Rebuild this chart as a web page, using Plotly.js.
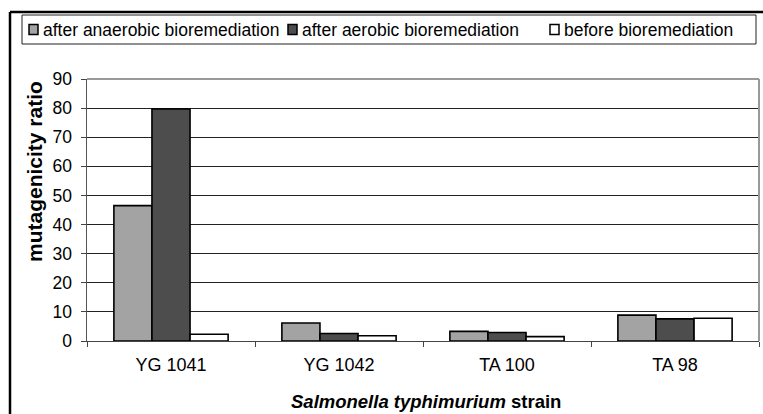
<!DOCTYPE html>
<html>
<head>
<meta charset="utf-8">
<script src="https://cdn.plot.ly/plotly-3.0.1.min.js"></script>
<style>
  html, body { margin: 0; padding: 0; background: #fff; }
  #chart { width: 763px; height: 414px; }
</style>
</head>
<body>
<div id="chart"></div>
<script>
const strains = ["YG 1041", "YG 1042", "TA 100", "TA 98"];
const seriesNames = ["after anaerobic bioremediation", "after aerobic bioremediation", "before bioremediation"];
const anaerobic = [46.5, 6.2, 3.3, 8.9];
const aerobic = [79.7, 2.6, 2.9, 7.6];
const before = [2.3, 1.8, 1.5, 7.8];
const yTicks = [0, 10, 20, 30, 40, 50, 60, 70, 80, 90];

const colors = ["#a3a3a3", "#4d4d4d", "#ffffff"];
const values = [anaerobic, aerobic, before];

const W = 763, H = 414;
const L = 87, R = 759, T = 79, B = 341;
const pw = R - L, ph = B - T;
const px = x => (x - L) / pw;
const py = y => (B - y) / ph;

const traces = values.map((v, i) => ({
  type: "bar",
  name: seriesNames[i],
  x: strains,
  y: v,
  marker: { color: colors[i], line: { color: "#000", width: 1.6 } },
  hoverinfo: "skip",
  showlegend: false
}));

// manual legend (box, swatches, labels) placed like the original
const legendBox = { x0: 22, x1: 756, y0: 15, y1: 44 };
const legendSwatchX = [29, 288, 550];
const legendTextX = [41, 300, 562];
const legendMidY = 29.5;

const shapes = [
  { type: "line", xref: "paper", yref: "paper", x0: px(10), x1: px(W + 5), y0: py(12), y1: py(12), line: { color: "#000", width: 2.5 } },
  { type: "line", xref: "paper", yref: "paper", x0: px(10), x1: px(10), y0: py(12), y1: py(H + 5), line: { color: "#000", width: 2.5 } },
  { type: "line", xref: "paper", yref: "paper", x0: 0, x1: 1, y0: 1, y1: 1, line: { color: "#999", width: 2 }, layer: "above" },
  { type: "line", xref: "paper", yref: "paper", x0: 1, x1: 1, y0: 0, y1: 1, line: { color: "#999", width: 2 }, layer: "above" },
  { type: "rect", xref: "paper", yref: "paper", x0: px(legendBox.x0), x1: px(legendBox.x1), y0: py(legendBox.y0), y1: py(legendBox.y1), line: { color: "#222", width: 1 }, fillcolor: "#fff" }
];
const annotations = [];
seriesNames.forEach((name, i) => {
  shapes.push({
    type: "rect", xref: "paper", yref: "paper",
    x0: px(legendSwatchX[i]), x1: px(legendSwatchX[i] + 9),
    y0: py(legendMidY - 5), y1: py(legendMidY + 5),
    fillcolor: colors[i], line: { color: "#000", width: 1.5 }
  });
  annotations.push({
    xref: "paper", yref: "paper", x: px(legendTextX[i]), y: py(legendMidY + 0.5),
    text: name, showarrow: false, xanchor: "left", yanchor: "middle",
    font: { size: 17.5 }
  });
});
annotations.push(
  {
    xref: "paper", yref: "paper", x: px(34), y: py(172),
    text: "<b>mutagenicity ratio</b>", textangle: -90, showarrow: false,
    font: { size: 21 }, xanchor: "center", yanchor: "middle"
  },
  {
    xref: "paper", yref: "paper", x: px(426), y: py(401),
    text: "<b><i>Salmonella typhimurium</i> strain</b>", showarrow: false,
    font: { size: 18.5 }, xanchor: "center", yanchor: "middle"
  }
);

const layout = {
  width: W, height: H,
  margin: { l: L, r: W - R, t: T, b: H - B, pad: 0 },
  paper_bgcolor: "#fff",
  plot_bgcolor: "#fff",
  font: { family: "Liberation Sans, Arial, sans-serif", color: "#000", size: 15 },
  barmode: "group",
  bargap: 0.32,
  bargroupgap: 0,
  showlegend: false,
  xaxis: {
    type: "category",
    showgrid: false,
    showline: true, linecolor: "#444", linewidth: 1,
    ticks: "outside", ticklen: 5, tickcolor: "#444",
    tickson: "boundaries",
    tickfont: { size: 18 },
    ticklabelstandoff: 7,
    zeroline: false,
    fixedrange: true
  },
  yaxis: {
    range: [0, 90],
    tickvals: yTicks,
    ticktext: yTicks.map(String),
    showgrid: true, gridcolor: "#222", gridwidth: 1,
    showline: true, linecolor: "#555", linewidth: 1.5,
    ticks: "outside", ticklen: 5, tickcolor: "#444",
    tickfont: { size: 17.5 },
    ticklabelstandoff: 5,
    zeroline: false,
    fixedrange: true
  },
  shapes: shapes,
  annotations: annotations
};

Plotly.newPlot("chart", traces, layout, { staticPlot: true, displayModeBar: false });
</script>
</body>
</html>
